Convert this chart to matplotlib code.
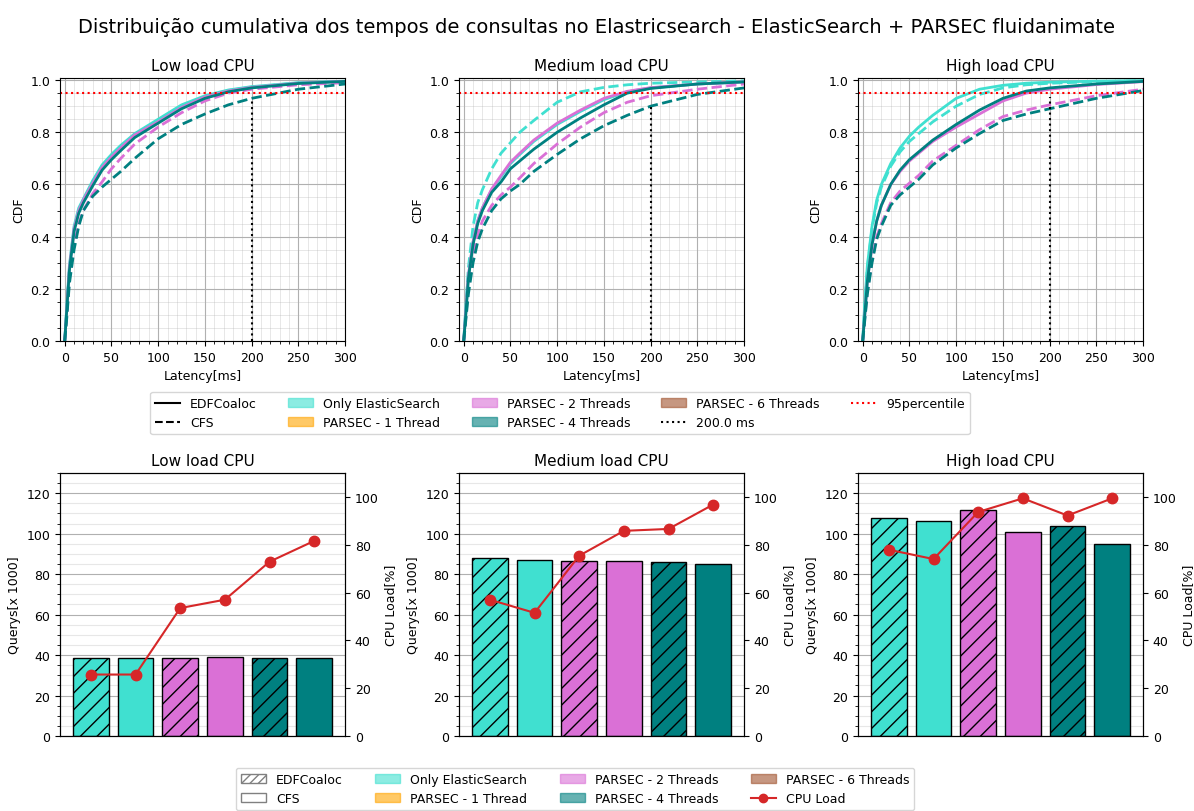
import numpy as np
import matplotlib.pyplot as plt
import matplotlib.patches as mpatches
from matplotlib.lines import Line2D
from matplotlib.ticker import MultipleLocator


loads = ["Low load CPU", "Medium load CPU", "High load CPU"]
configs = ["Only ElasticSearch", "PARSEC - 2 Threads", "PARSEC - 4 Threads"]
colors = ["turquoise", "orchid", "teal"]

# latency points (ms) where the CDF was read
latency = [0, 2, 5, 10, 15, 20, 30, 40, 50, 60, 75, 100, 125, 150, 175, 200, 250, 300]

# low load
low_es_edf = [0, .12, .29, .44, .51, .545, .615, .675, .715, .75, .795, .85, .905, .94, .962, .975, .99, .996]
low_es_cfs = [0, .11, .28, .43, .50, .54, .61, .67, .71, .745, .79, .845, .90, .935, .96, .973, .989, .995]
low_p2_edf = [0, .11, .28, .43, .50, .54, .605, .665, .705, .74, .79, .84, .895, .935, .958, .972, .988, .995]
low_p2_cfs = [0, .09, .24, .37, .45, .50, .565, .61, .66, .70, .755, .82, .875, .92, .95, .965, .982, .99]
low_p4_edf = [0, .11, .27, .42, .49, .53, .595, .655, .695, .73, .78, .835, .89, .93, .955, .97, .987, .995]
low_p4_cfs = [0, .08, .22, .35, .44, .50, .555, .59, .62, .65, .70, .775, .83, .87, .905, .93, .965, .985]

# medium load
med_es_edf = [0, .10, .25, .38, .46, .51, .58, .63, .68, .715, .765, .83, .88, .925, .955, .97, .985, .993]
med_es_cfs = [0, .12, .28, .44, .53, .58, .66, .72, .76, .80, .845, .915, .955, .972, .982, .988, .993, .997]
med_p2_edf = [0, .10, .25, .38, .46, .51, .583, .635, .685, .72, .77, .835, .885, .93, .957, .971, .985, .993]
med_p2_cfs = [0, .08, .20, .33, .41, .46, .52, .56, .59, .625, .68, .755, .82, .875, .915, .94, .965, .985]
med_p4_edf = [0, .09, .24, .37, .45, .50, .57, .61, .66, .69, .735, .80, .855, .905, .95, .968, .985, .993]
med_p4_cfs = [0, .07, .18, .30, .38, .43, .50, .545, .575, .60, .65, .715, .775, .825, .865, .90, .945, .97]

# high load
high_es_edf = [0, .13, .29, .44, .54, .60, .68, .74, .785, .82, .865, .93, .965, .98, .988, .992, .996, .998]
high_es_cfs = [0, .12, .28, .43, .53, .59, .67, .725, .765, .795, .84, .90, .945, .97, .982, .988, .994, .997]
high_p2_edf = [0, .09, .23, .37, .46, .52, .60, .65, .69, .72, .765, .82, .87, .92, .95, .965, .983, .994]
high_p2_cfs = [0, .08, .19, .31, .40, .45, .53, .575, .605, .635, .69, .75, .81, .86, .885, .905, .94, .965]
high_p4_edf = [0, .09, .23, .37, .46, .52, .60, .655, .695, .725, .77, .83, .885, .93, .958, .97, .985, .995]
high_p4_cfs = [0, .07, .18, .30, .39, .44, .52, .56, .59, .62, .675, .74, .795, .845, .87, .89, .93, .96]

# top of the 200 ms marker in each panel
marker_top = [0.93, 0.905, 0.935]

# bars: ES EDF, ES CFS, P2 EDF, P2 CFS, P4 EDF, P4 CFS
queries_low = [38.5, 38.5, 38.5, 38.8, 38.5, 38.5]
queries_med = [88.0, 87.1, 86.5, 86.5, 85.8, 85.1]
queries_high = [107.6, 106.1, 111.9, 100.8, 103.8, 94.7]
cpu_low = [25.7, 25.7, 53.5, 57.0, 72.9, 81.6]
cpu_med = [57.0, 51.5, 75.4, 85.8, 86.6, 96.8]
cpu_high = [77.9, 74.0, 93.7, 99.4, 92.2, 99.4]

cdfs = [
    [(low_es_edf, low_es_cfs), (low_p2_edf, low_p2_cfs), (low_p4_edf, low_p4_cfs)],
    [(med_es_edf, med_es_cfs), (med_p2_edf, med_p2_cfs), (med_p4_edf, med_p4_cfs)],
    [(high_es_edf, high_es_cfs), (high_p2_edf, high_p2_cfs), (high_p4_edf, high_p4_cfs)],
]
queries = [queries_low, queries_med, queries_high]
cpu = [cpu_low, cpu_med, cpu_high]

plt.rcParams['font.size'] = 9

fig, axes = plt.subplots(2, 3, figsize=(11.94, 8.12), dpi=100)
fig.subplots_adjust(left=0.0503, right=0.9573, top=0.9027, bottom=0.0924,
                    wspace=0.4, hspace=0.502)
fig.suptitle("Distribuição cumulativa dos tempos de consultas no Elastricsearch - "
             "ElasticSearch + PARSEC fluidanimate", fontsize=14, y=0.978)

for i, ax in enumerate(axes[0]):
    for j, color in enumerate(colors):
        edf, cfs = cdfs[i][j]
        ax.plot(latency, edf, color=color, linestyle='-', linewidth=2)
        ax.plot(latency, cfs, color=color, linestyle='--', linewidth=2)
    ax.axhline(0.95, color='red', linestyle=':', linewidth=1.5)
    ax.vlines(200, 0, marker_top[i], color='black', linestyle=':', linewidth=1.5)
    ax.set_xlim(-5, 300)
    ax.set_ylim(0, 1.008)
    ax.xaxis.set_major_locator(MultipleLocator(50))
    ax.xaxis.set_minor_locator(MultipleLocator(10))
    ax.yaxis.set_major_locator(MultipleLocator(0.2))
    ax.yaxis.set_minor_locator(MultipleLocator(0.05))
    ax.grid(which='major', color='#b0b0b0', linewidth=0.8)
    ax.grid(which='minor', color='#b0b0b0', linewidth=0.6, alpha=0.35)
    ax.set_title(loads[i], fontsize=11)
    ax.set_xlabel("Latency[ms]")
    ax.set_ylabel("CDF")

bar_colors = ["turquoise", "turquoise", "orchid", "orchid", "teal", "teal"]
bar_hatch = ["//", "", "//", "", "//", ""]
x = np.arange(6)
for i, ax in enumerate(axes[1]):
    bars = ax.bar(x, queries[i], width=0.8, color=bar_colors,
                  edgecolor='black', linewidth=1)
    for b, h in zip(bars, bar_hatch):
        b.set_hatch(h)
    ax.set_ylim(0, 130)
    ax.set_xticks([])
    ax.yaxis.set_major_locator(MultipleLocator(20))
    ax.yaxis.set_minor_locator(MultipleLocator(5))
    ax.grid(axis='y', which='major', color='#b0b0b0', linewidth=0.8)
    ax.grid(axis='y', which='minor', color='#b0b0b0', linewidth=0.8, alpha=0.3)
    ax.set_axisbelow(True)
    ax.set_ylabel("Querys[x 1000]")
    ax.set_title(loads[i], fontsize=11)
    ax2 = ax.twinx()
    ax2.plot(x, cpu[i], color='tab:red', marker='o', markersize=7.5, linewidth=1.5)
    ax2.set_ylim(0, 110)
    ax2.yaxis.set_major_locator(MultipleLocator(20))
    ax2.set_ylabel("CPU Load[%]")

cfg_patches = [
    mpatches.Patch(color='turquoise', alpha=0.6, label='Only ElasticSearch'),
    mpatches.Patch(color='orange', alpha=0.6, label='PARSEC - 1 Thread'),
    mpatches.Patch(color='orchid', alpha=0.6, label='PARSEC - 2 Threads'),
    mpatches.Patch(color='teal', alpha=0.6, label='PARSEC - 4 Threads'),
    mpatches.Patch(color='sienna', alpha=0.6, label='PARSEC - 6 Threads'),
]

top_handles = [
    Line2D([], [], color='black', linestyle='-', label='EDFCoaloc'),
    Line2D([], [], color='black', linestyle='--', label='CFS'),
] + cfg_patches + [
    Line2D([], [], color='black', linestyle=':', label='200.0 ms'),
    Line2D([], [], color='red', linestyle=':', label='95percentile'),
]
fig.legend(handles=top_handles, loc='center', ncol=5, columnspacing=2.5,
           bbox_to_anchor=(0.469, 0.490), fontsize=9)

bottom_handles = [
    mpatches.Patch(facecolor='white', edgecolor='gray', hatch='////', label='EDFCoaloc'),
    mpatches.Patch(facecolor='white', edgecolor='gray', label='CFS'),
] + cfg_patches + [
    Line2D([], [], color='tab:red', marker='o', label='CPU Load'),
]
fig.legend(handles=bottom_handles, loc='center', ncol=4, columnspacing=2.6,
           bbox_to_anchor=(0.4816, 0.027), fontsize=9)

fig.savefig("out.png", dpi=100)
